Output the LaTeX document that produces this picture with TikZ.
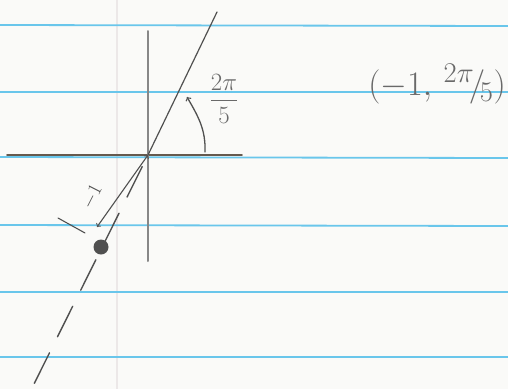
\documentclass[tikz,border=0pt]{standalone}
\usepackage{amsmath}
\usepackage{graphicx}
\usepackage{xcolor}
\usepackage{tikz}
\usetikzlibrary{positioning}
\definecolor{ruleblue}{RGB}{105,198,235}
\definecolor{lead}{RGB}{80,80,80}
\definecolor{softlead}{RGB}{105,105,105}
\definecolor{paper}{RGB}{250,250,248}
\definecolor{marginline}{RGB}{236,232,232}

\begin{document}
\begin{tikzpicture}[x=1pt,y=-1pt,
    rule/.style={ruleblue,line width=1.8pt},
    pencil/.style={lead,line width=1.4pt,line cap=round},
    label/.style={softlead,inner sep=0pt}]
            % Paper with ruled lines
            \fill[paper] (0,0) rectangle (508,389);
            \useasboundingbox (0,0) rectangle (508,389);
            \draw[marginline,line width=1.5pt] (117,0) -- (117,389);
            \draw[rule] (0,25) -- (508,26);
            \draw[rule] (0,92) -- (508,92);
            \draw[rule] (0,157) -- (508,158);
            \draw[rule] (0,225) -- (508,226);
            \draw[rule] (0,292) -- (508,292);
            \draw[rule] (0,357) -- (508,357);
            % Axes
            \coordinate (O) at (148,155);
            \coordinate (xl) at (7,155);
            \coordinate (xr) at (242,155);
            \coordinate (yt) at (148,31);
            \coordinate (yb) at (148,261);
            \draw[pencil,line width=1.8pt,color=lead!80!brown] (xl) -- (xr);
            \draw[pencil,line width=2pt,color=softlead!80] (yt) -- (yb);
            % Ray at 2pi/5 and its dashed continuation
            \coordinate (top) at (217,12);
            \coordinate (bottom) at (32,388);
            \draw[pencil,line width=1.2pt] (O) -- (top);
            \draw[pencil,dash pattern=on 34pt off 18pt,dash phase=39pt] (O) -- (bottom);
            \node (pt) [circle,fill=lead,inner sep=0pt,minimum size=15pt] at (101,247) {};
            % Distance -1
            \coordinate (dimend) at (97,227);
            \draw[pencil,line width=1.1pt,<->] (dimend) -- (O);
            \draw[pencil,line width=1.1pt] (58,218) -- (85,233);
            \node[label,text=lead,rotate=63,font=\fontsize{17.28}{18}\selectfont] (dist) at (92,197)
                {\scalebox{1.15}{$-1$}};
            % Angle
            \coordinate (arcstart) at (205,152);
            \coordinate (arcend) at (187,97);
            \draw[pencil,line width=1.3pt,->] (arcstart) to[out=88,in=-60] (arcend);
            \node[label,font=\fontsize{24.88}{25}\selectfont] (ang) at (224,99) {$\dfrac{2\pi}{5}$};
            % Polar coordinates
            \node[label,font=\fontsize{24.88}{25}\selectfont] (polar) at (437,84)
                {\scalebox{1.38}{$(-1,\,{}^{2\pi}\!/\!_{5})$}};
        \end{tikzpicture}
\end{document}
